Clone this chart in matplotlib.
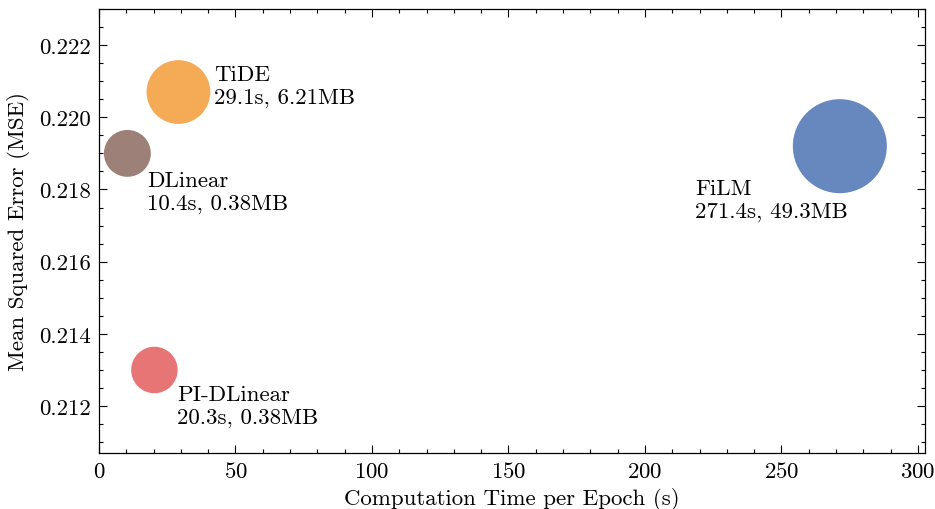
import matplotlib
matplotlib.use("Agg")
import matplotlib.pyplot as plt
from matplotlib.ticker import MultipleLocator

plt.rcParams["font.family"] = ["cmr10", "DejaVu Serif"]
plt.rcParams["mathtext.fontset"] = "cm"
plt.rcParams["axes.formatter.use_mathtext"] = True
plt.rcParams["font.size"] = 16.5

# Model efficiency summary
models = ["FiLM", "TiDE", "DLinear", "PI-DLinear"]
epoch_time_s = [271.4, 29.1, 10.4, 20.3]
mse = [0.2192, 0.2207, 0.2190, 0.2130]
memory_mb = [49.3, 6.21, 0.38, 0.38]

# styling for each bubble
colors = ["#6688BE", "#F5AB55", "#9D8178", "#E87575"]
bubble_area = [4580, 2110, 1140, 1120]
label_offset_px = [(-145, -32), (36, 28), (20, -17), (23, -15)]

fig = plt.figure(figsize=(9.35, 5.1), dpi=100)
ax = fig.add_axes([99 / 935, 1 - 454 / 510, (925 - 99) / 935, (454 - 10) / 510])

ax.scatter(epoch_time_s, mse, s=bubble_area, c=colors, linewidths=0, zorder=3)

for name, t, m, mem, off in zip(models, epoch_time_s, mse, memory_mb, label_offset_px):
    ax.annotate(f"{name}\n{t}s, {mem}MB", xy=(t, m), xytext=off,
                textcoords="offset pixels", ha="left", va="top",
                linespacing=1.2, fontsize=16.5)

ax.set_xlim(0, 302.6)
ax.set_ylim(0.2107, 0.2230)
ax.xaxis.set_major_locator(MultipleLocator(50))
ax.xaxis.set_minor_locator(MultipleLocator(10))
ax.yaxis.set_major_locator(MultipleLocator(0.002))
ax.yaxis.set_minor_locator(MultipleLocator(0.0005))
ax.yaxis.set_major_formatter(matplotlib.ticker.FormatStrFormatter("%.3f"))

ax.tick_params(which="both", direction="in", top=True, right=True, width=0.8)
ax.tick_params(which="major", length=5.5, pad=6)
ax.tick_params(which="minor", length=2.8)
for sp in ax.spines.values():
    sp.set_linewidth(0.9)

ax.set_xlabel("Computation Time per Epoch (s)", labelpad=4)
ax.set_ylabel("Mean Squared Error (MSE)", labelpad=6)

fig.savefig("out.png", dpi=100)
